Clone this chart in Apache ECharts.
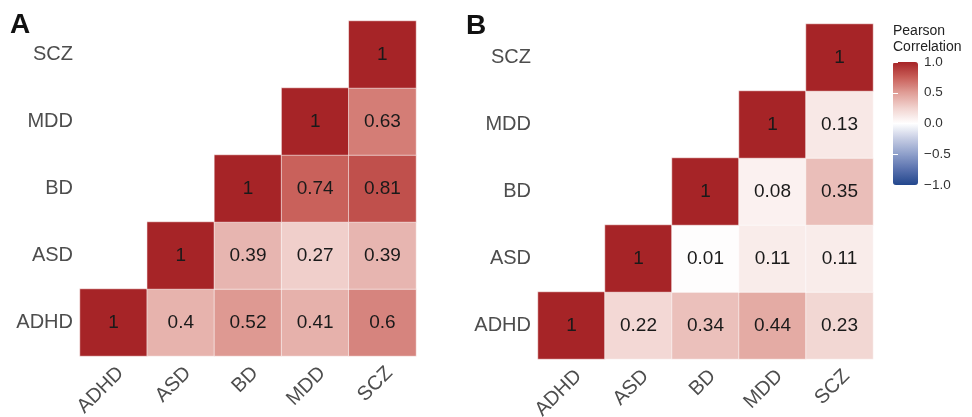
<!DOCTYPE html>
<html>
<head>
<meta charset="utf-8">
<script src="https://cdn.jsdelivr.net/npm/echarts@6/dist/echarts.min.js"></script>
<style>
html,body{margin:0;padding:0;background:#fff;}
#chart{width:972px;height:417px;}
</style>
</head>
<body>
<div id="chart"></div>
<script>
// Categories (x left-to-right, y bottom-to-top)
const categories = ['ADHD', 'ASD', 'BD', 'MDD', 'SCZ'];

// Panel A: rows by y category, columns by x category (null = empty cell)
const panelA_ADHD = [1, 0.4, 0.52, 0.41, 0.6];
const panelA_ASD  = [null, 1, 0.39, 0.27, 0.39];
const panelA_BD   = [null, null, 1, 0.74, 0.81];
const panelA_MDD  = [null, null, null, 1, 0.63];
const panelA_SCZ  = [null, null, null, null, 1];

// Panel B
const panelB_ADHD = [1, 0.22, 0.34, 0.44, 0.23];
const panelB_ASD  = [null, 1, 0.01, 0.11, 0.11];
const panelB_BD   = [null, null, 1, 0.08, 0.35];
const panelB_MDD  = [null, null, null, 1, 0.13];
const panelB_SCZ  = [null, null, null, null, 1];

// Colour-bar tick values
const legendTicks = [-1, -0.5, 0, 0.5, 1];

function toCells(rows) {
  const out = [];
  rows.forEach((row, yi) => {
    row.forEach((v, xi) => {
      if (v !== null) out.push([xi, yi, v]);
    });
  });
  return out;
}
const cellsA = toCells([panelA_ADHD, panelA_ASD, panelA_BD, panelA_MDD, panelA_SCZ]);
const cellsB = toCells([panelB_ADHD, panelB_ASD, panelB_BD, panelB_MDD, panelB_SCZ]);

const FONT = '"Liberation Sans", Arial, sans-serif';

function catX(gi) {
  return {
    type: 'category', gridIndex: gi, data: categories,
    axisLine: {show: false}, axisTick: {show: false},
    splitLine: {show: false}, splitArea: {show: false},
    axisLabel: {rotate: 45, fontSize: 20, color: '#4d4d4d', margin: 7,
      align: 'right', verticalAlign: 'top', fontFamily: FONT, interval: 0}
  };
}
function catY(gi) {
  return {
    type: 'category', gridIndex: gi, data: categories,
    axisLine: {show: false}, axisTick: {show: false},
    splitLine: {show: false}, splitArea: {show: false},
    axisLabel: {fontSize: 20, color: '#4d4d4d', margin: 7, fontFamily: FONT, interval: 0}
  };
}
function heat(idx, data) {
  return {
    type: 'heatmap', xAxisIndex: idx, yAxisIndex: idx, data: data,
    label: {show: true, color: '#1a1a1a', fontSize: 19, fontFamily: FONT,
      formatter: p => String(p.value[2])},
    itemStyle: {borderColor: 'rgba(255,255,255,0.55)', borderWidth: 1},
    emphasis: {disabled: true}
  };
}
const fmtTick = v => (v < 0 ? '\u2212' : '') + Math.abs(v).toFixed(1);

const chart = echarts.init(document.getElementById('chart'), null, {renderer: 'canvas'});
chart.setOption({
  animation: false,
  backgroundColor: '#ffffff',
  textStyle: {fontFamily: FONT},
  title: [
    {text: 'A', left: 10, top: 11, padding: 0, textStyle: {fontSize: 28, fontWeight: 'bold', color: '#111', fontFamily: FONT}},
    {text: 'B', left: 466, top: 12, padding: 0, textStyle: {fontSize: 28, fontWeight: 'bold', color: '#111', fontFamily: FONT}},
    {text: 'Pearson\nCorrelation', left: 893, top: 23, padding: 0,
      textStyle: {fontSize: 14, lineHeight: 16, fontWeight: 'normal', color: '#222', fontFamily: FONT}}
  ],
  grid: [
    {left: 80, top: 21, width: 336, height: 335, outerBoundsMode: 'none', containLabel: false},
    {left: 538, top: 24, width: 335, height: 335, outerBoundsMode: 'none', containLabel: false},
    {left: 893, top: 62, width: 25, height: 123, outerBoundsMode: 'none', containLabel: false}
  ],
  xAxis: [catX(0), catX(1), {type: 'value', gridIndex: 2, show: false, min: 0, max: 1}],
  yAxis: [catY(0), catY(1),
    {type: 'value', gridIndex: 2, min: -1, max: 1, interval: 0.5, position: 'right', z: 10,
      axisLine: {show: false}, splitLine: {show: false},
      axisTick: {show: true, inside: true, length: 5, lineStyle: {color: '#ffffff', width: 1}},
      axisLabel: {fontSize: 13.5, color: '#333', margin: 6, formatter: fmtTick, fontFamily: FONT},
      data: legendTicks},
    {type: 'value', gridIndex: 2, min: -1, max: 1, interval: 0.5, position: 'left', z: 10,
      axisLine: {show: false}, splitLine: {show: false},
      axisTick: {show: true, inside: true, length: 5, lineStyle: {color: '#ffffff', width: 1}},
      axisLabel: {show: false}}
  ],
  visualMap: {
    type: 'continuous', min: -1, max: 1, seriesIndex: [0, 1],
    left: 893, top: 62, itemWidth: 25, itemHeight: 123, padding: 0,
    text: null, calculable: false, showLabel: false, hoverLink: false,
    inRange: {color: ['#23478D', '#5870AD', '#8E9FCA', '#C5CCE3', '#FFFFFF',
                      '#F1D3CF', '#E09E97', '#C85E58', '#A62427']}
  },
  series: [heat(0, cellsA), heat(1, cellsB)]
});
</script>
</body>
</html>
